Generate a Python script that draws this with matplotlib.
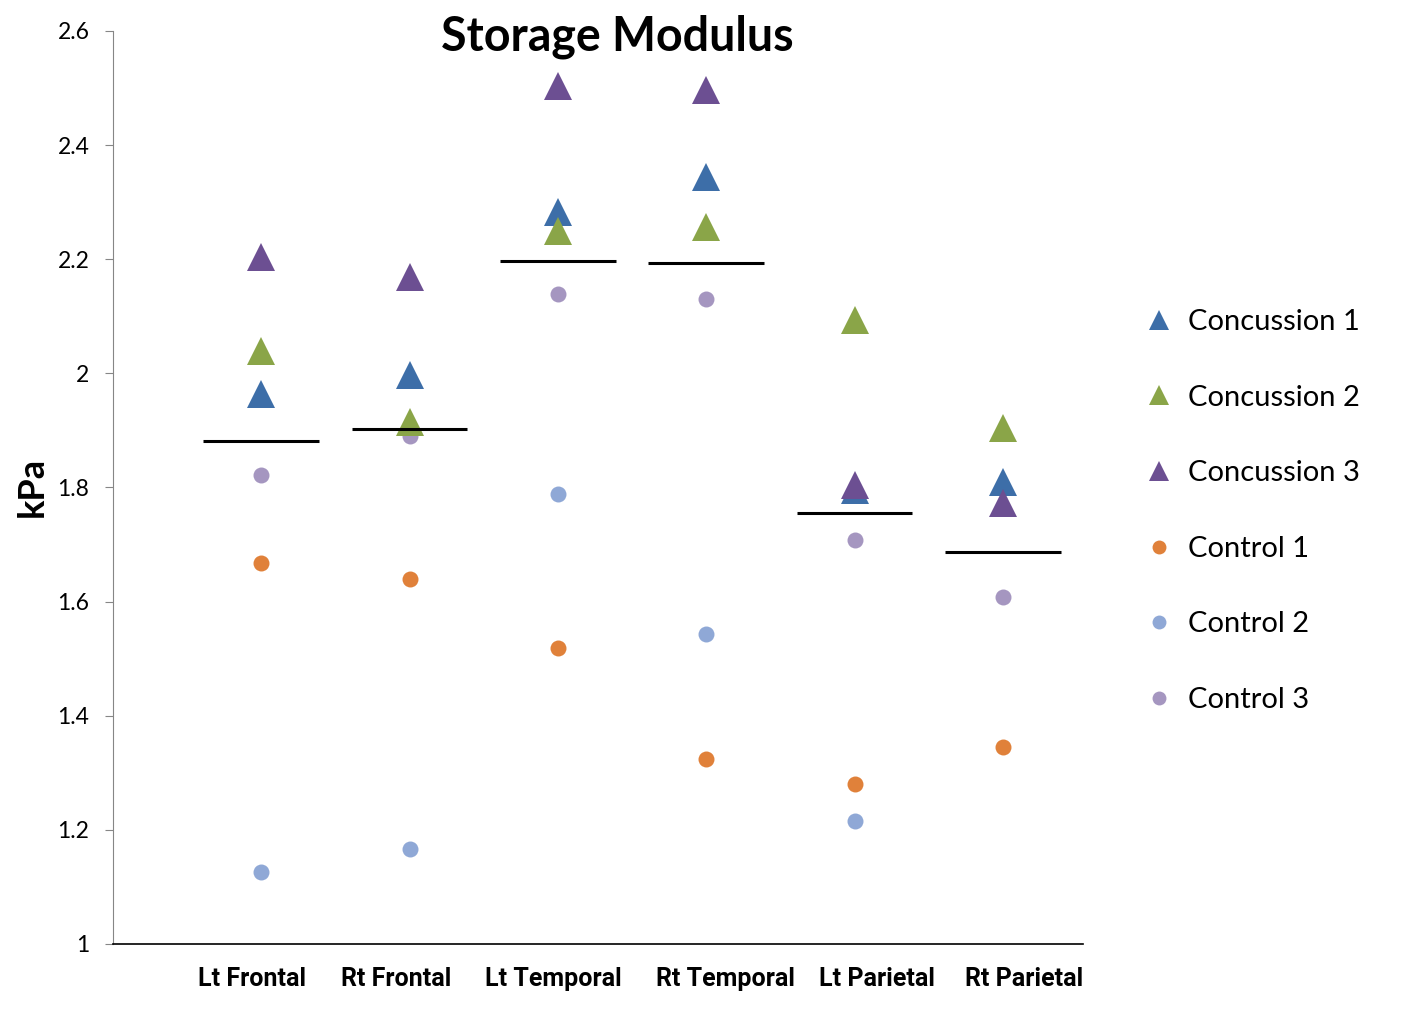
import numpy as np
import matplotlib
matplotlib.use("Agg")
import matplotlib.pyplot as plt
import matplotlib.transforms as mtransforms
from matplotlib.lines import Line2D

# data
regions = ["Lt Frontal", "Rt Frontal", "Lt Temporal", "Rt Temporal", "Lt Parietal", "Rt Parietal"]
concussion1 = [1.964, 1.997, 2.283, 2.344, 1.796, 1.810]
concussion2 = [2.039, 1.915, 2.250, 2.257, 2.094, 1.904]
concussion3 = [2.204, 2.169, 2.504, 2.497, 1.804, 1.773]
control1 = [1.668, 1.640, 1.519, 1.324, 1.280, 1.345]
control2 = [1.126, 1.166, 1.789, 1.543, 1.216, np.nan]
control3 = [1.822, 1.890, 2.139, 2.130, 1.708, 1.608]
mean_line = [1.882, 1.903, 2.197, 2.193, 1.755, 1.687]
yticks = [1, 1.2, 1.4, 1.6, 1.8, 2, 2.2, 2.4, 2.6]
ytick_labels = ["1", "1.2", "1.4", "1.6", "1.8", "2", "2.2", "2.4", "2.6"]

c_blue = "#3d6ea8"
c_green = "#8aa548"
c_purple = "#6c4f92"
c_orange = "#e0813a"
c_lblue = "#8fa8d6"
c_lpurple = "#a596c0"

fig = plt.figure(figsize=(14.21, 10.32), dpi=100)
ax = fig.add_axes([113 / 1421, 1 - 944 / 1032, (1083 - 113) / 1421, (944 - 31) / 1032])

x = np.arange(1, len(regions) + 1)

# controls first, then concussion triangles, then the black lines
ax.plot(x, control1, "o", color=c_orange, ms=11.5, mew=0, ls="none")
ax.plot(x, control2, "o", color=c_lblue, ms=11.5, mew=0, ls="none")
ax.plot(x, control3, "o", color=c_lpurple, ms=11.5, mew=0, ls="none")
ax.plot(x, concussion1, "^", color=c_blue, ms=19.5, mew=0, ls="none")
ax.plot(x, concussion2, "^", color=c_green, ms=19.5, mew=0, ls="none")
ax.plot(x, concussion3, "^", color=c_purple, ms=19.5, mew=0, ls="none")
ax.hlines(mean_line, x - 0.39, x + 0.39, color="black", lw=2.2)

ax.set_xlim(0, 6.54)
ax.set_ylim(1, 2.6)
ax.set_yticks(yticks)
ax.set_yticklabels(ytick_labels, fontsize=16.5, family=["Lato", "DejaVu Sans"])
ax.set_xticks(x)
ax.set_xticklabels([])

# category names sit a little off the point columns in the original
label_shift = [-9, -14, -5, 19, 22, 21]
base = mtransforms.blended_transform_factory(ax.transData, ax.transAxes)
for xi, name, dx in zip(x, regions, label_shift):
    tr = base + mtransforms.ScaledTranslation(dx / 100, -35 / 100, fig.dpi_scale_trans)
    ax.text(xi, 0, name, transform=tr, fontsize=18, fontweight="bold",
            family=["Roboto", "DejaVu Sans"], ha="center", va="center")

ax.tick_params(axis="x", length=0)
ax.tick_params(axis="y", direction="out", length=6, color="#868686", pad=11)
ax.spines["top"].set_visible(False)
ax.spines["right"].set_visible(False)
ax.spines["left"].set_color("#868686")
ax.spines["bottom"].set_color("black")
ax.spines["bottom"].set_linewidth(1.2)

fig.text(617 / 1421, 1 - 37 / 1032, "Storage Modulus", fontsize=33.5, fontweight="bold",
         ha="center", va="center", family=["Lato", "DejaVu Sans"])
fig.text(32 / 1421, 1 - 487 / 1032, "kPa", fontsize=26, fontweight="bold", rotation=90,
         ha="center", va="center", family=["Lato", "DejaVu Sans"])

handles = [
    Line2D([], [], marker="^", color=c_blue, ms=14, mew=0, ls="none"),
    Line2D([], [], marker="^", color=c_green, ms=14, mew=0, ls="none"),
    Line2D([], [], marker="^", color=c_purple, ms=14, mew=0, ls="none"),
    Line2D([], [], marker="o", color=c_orange, ms=10, mew=0, ls="none"),
    Line2D([], [], marker="o", color=c_lblue, ms=10, mew=0, ls="none"),
    Line2D([], [], marker="o", color=c_lpurple, ms=10, mew=0, ls="none"),
]
names = ["Concussion 1", "Concussion 2", "Concussion 3", "Control 1", "Control 2", "Control 3"]
fig.legend(handles, names, loc="upper left", bbox_to_anchor=(1146 / 1421, 1 - 309 / 1032),
           frameon=False, prop={"family": ["Lato", "DejaVu Sans"], "size": 21},
           labelspacing=1.7, handlelength=0.9, handletextpad=0.55, borderpad=0, borderaxespad=0)

fig.savefig("out.png", dpi=100)
